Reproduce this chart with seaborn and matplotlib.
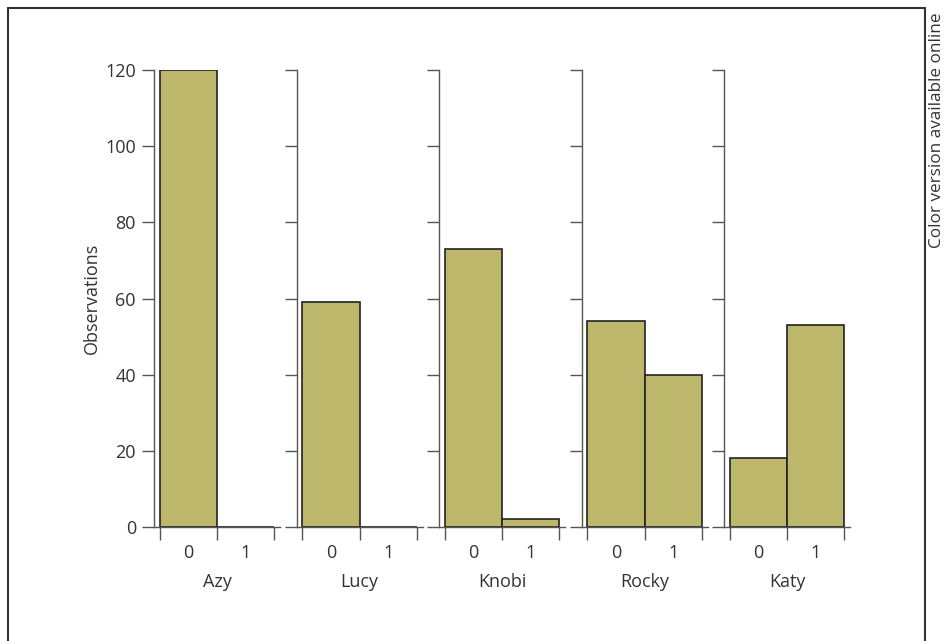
import matplotlib
matplotlib.use("Agg")
import matplotlib.pyplot as plt
from matplotlib.lines import Line2D
import seaborn as sns
import pandas as pd

# Counts of observations per category (0 / 1) for each individual
names = ["Azy", "Lucy", "Knobi", "Rocky", "Katy"]
counts_0 = [120, 59, 73, 54, 18]
counts_1 = [0, 0, 2, 40, 53]
categories = ["0", "1"]
y_ticks = [0, 20, 40, 60, 80, 100, 120]

sns.set_theme(style="ticks")
plt.rcParams["font.family"] = ["Open Sans", "DejaVu Sans"]
text_color = "#333333"
spine_color = "#555555"
bar_color = "#BDB76B"

W, H = 944, 641
fig = plt.figure(figsize=(W / 100, H / 100), dpi=100)

ax_left0, ax_step, ax_w = 154, 142.5, 126
ax_top, ax_bottom = 70, 527

for i, name in enumerate(names):
    ax = fig.add_axes([(ax_left0 + i * ax_step) / W, (H - ax_bottom) / H,
                       ax_w / W, (ax_bottom - ax_top) / H])
    df = pd.DataFrame({"value": categories, "count": [counts_0[i], counts_1[i]]})
    sns.barplot(data=df, x="value", y="count", order=categories, width=1.0,
                color=bar_color, saturation=1, edgecolor="#222222",
                linewidth=1.2, ax=ax)
    ax.set_xlim(-0.6, 1.6)
    ax.set_ylim(0, 120)
    ax.set_yticks(y_ticks)
    # ticks on the bin edges, labels under the bin centres
    ax.set_xticks([-0.5, 0.5, 1.5])
    ax.set_xticklabels([])
    ax.set_xticks([0, 1], minor=True)
    ax.set_xticklabels(categories, minor=True)
    ax.tick_params(axis="x", which="major", length=9, width=1, color=spine_color,
                   direction="out")
    ax.tick_params(axis="x", which="minor", length=0, pad=12, labelsize=13,
                   labelcolor=text_color)
    ax.tick_params(axis="y", length=9, width=1, color=spine_color, labelsize=13,
                   labelcolor=text_color, pad=4)
    if i > 0:
        ax.set_yticklabels([])
        ax.set_ylabel("")
    else:
        ax.set_ylabel("Observations", fontsize=13, color=text_color, labelpad=3)
    ax.set_xlabel(name, fontsize=13, color=text_color, labelpad=8)
    for s in ["top", "right"]:
        ax.spines[s].set_visible(False)
    for s in ["left", "bottom"]:
        ax.spines[s].set_color(spine_color)
        ax.spines[s].set_linewidth(1)
    ax.set_facecolor("none")

# Outer frame (left, top, right)
frame_kw = dict(color="#333333", linewidth=1.5, transform=fig.transFigure)
xl, xr, yt = 7.5 / W, 924.5 / W, 1 - 7.5 / H
fig.add_artist(Line2D([xl, xl], [0, yt], **frame_kw))
fig.add_artist(Line2D([xl, xr], [yt, yt], **frame_kw))
fig.add_artist(Line2D([xr, xr], [0, yt], **frame_kw))

fig.text(937 / W, 1 - 12 / H, "Color version available online", rotation=90,
         ha="center", va="top", fontsize=12.3, color=text_color)

fig.savefig("out.png", dpi=100, facecolor="white")
